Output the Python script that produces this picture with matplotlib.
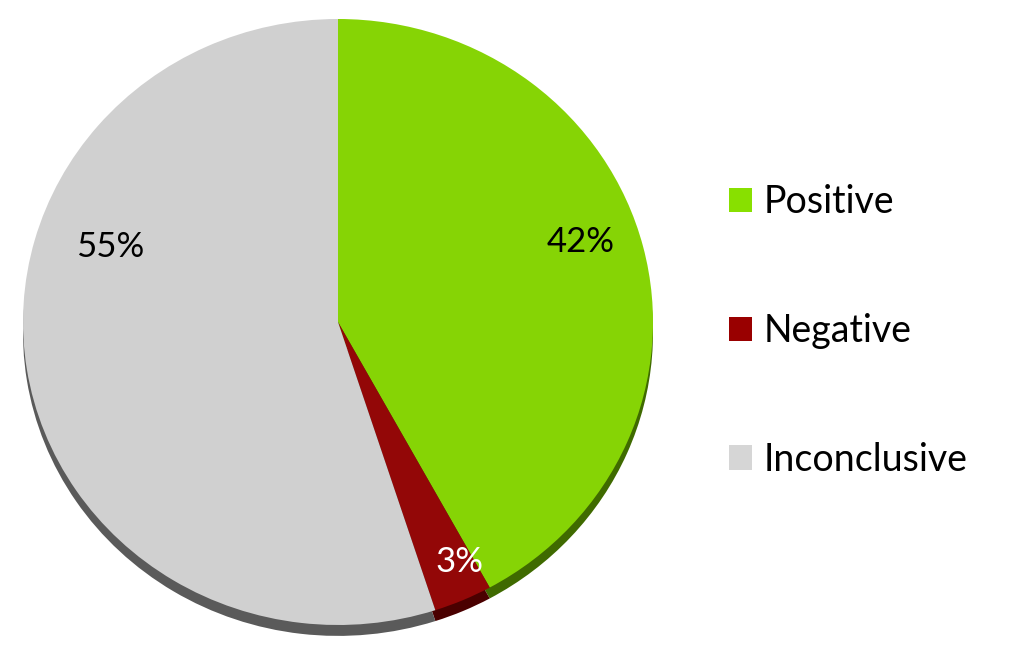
import matplotlib
matplotlib.use("Agg")
import matplotlib.pyplot as plt
from matplotlib.patches import Patch

categories = ["Positive", "Negative", "Inconclusive"]
values = [42, 3, 55]
labels_txt = ["42%", "3%", "55%"]
top_colors = ["#86D405", "#930707", "#D0D0D0"]
side_colors = ["#3F6A00", "#4A0000", "#5A5A5A"]
legend_colors = ["#88E000", "#990000", "#D6D6D6"]

plt.rcParams['font.family'] = ['Lato', 'DejaVu Sans']

W, H = 1024, 659
fig = plt.figure(figsize=(W / 100, H / 100), dpi=100)
cx, cy, rx, ry = 338, 659 - 322, 315, 303
ylo, yhi = -1.1, 1.02
ax = fig.add_axes([(cx - rx) / W, (cy + ylo * ry) / H, 2 * rx / W, (yhi - ylo) * ry / H])

depth = 0.036
ax.pie(values, colors=side_colors, startangle=90, counterclock=False,
       center=(0, -depth), radius=1.0, frame=True,
       wedgeprops=dict(linewidth=0))
ax.pie(values, colors=top_colors, startangle=90, counterclock=False,
       center=(0, 0), radius=1.0, frame=True,
       wedgeprops=dict(linewidth=0))
ax.set_aspect('auto')
ax.set_xlim(-1, 1)
ax.set_ylim(ylo, yhi)
ax.axis('off')

label_pos = [(0.771, 0.264), (0.387, -0.792), (-0.724, 0.248)]
label_colors = ["black", "white", "black"]
for t, (x, y), c in zip(labels_txt, label_pos, label_colors):
    ax.text(x, y, t, ha='center', va='center', fontsize=25, color=c)

handles = [Patch(facecolor=c, edgecolor='none') for c in legend_colors]
fig.legend(handles, categories, loc='center left', bbox_to_anchor=(695 / W, 1 - 331 / H),
           frameon=False, fontsize=27, labelspacing=2.47, handlelength=0.62,
           handleheight=0.62, handletextpad=0.32)

fig.savefig("out.png", dpi=100)
